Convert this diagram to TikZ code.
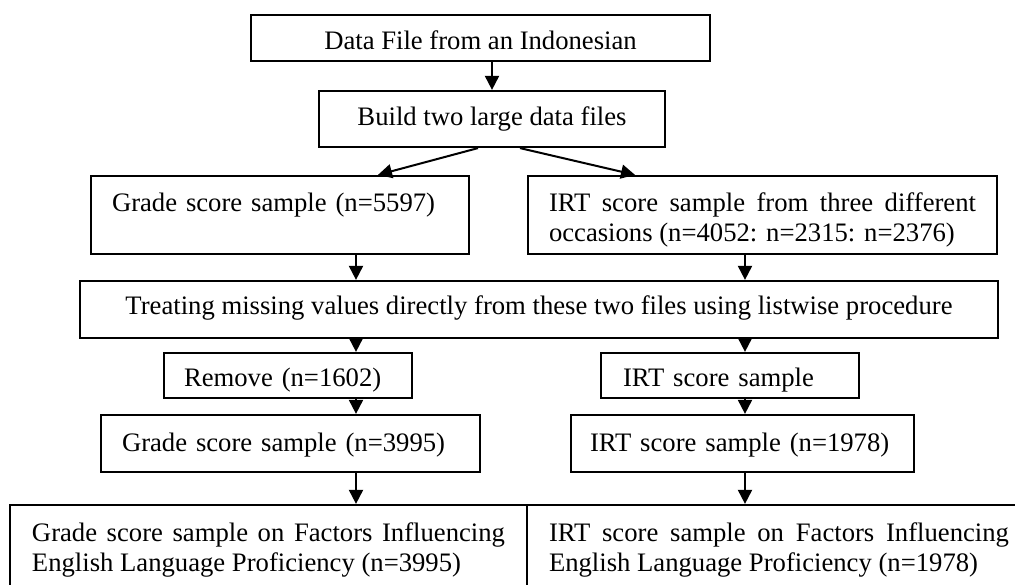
\documentclass[tikz,border=0pt]{standalone}
\usepackage{fontspec}
\setmainfont{Liberation Serif}
\usetikzlibrary{arrows.meta}
\newlength{\px}
\setlength{\px}{0.45pt}

\begin{document}
\begin{tikzpicture}[x=0.45pt, y=-0.45pt,
    box/.style={draw, black, line width=1pt, inner ysep=0pt, font=\fontsize{12}{13.5}\selectfont},
    arr/.style={black, line width=0.9pt, -{Triangle[length=6.3pt, width=6.3pt]}}]
    \useasboundingbox (0,0) rectangle (1015,585);
    \clip (0,0) rectangle (1015,585);
    \coordinate (lx) at (356,0);
    \coordinate (rx) at (745,0);
    \node[box, minimum width=459\px, text height=35\px, text depth=11\px] (data) at (480.5,38) {Data File from an Indonesian};
    \node[box, minimum width=346\px, text height=35\px, text depth=21\px] (build) at (492,119) {Build two large data files};
    \node[box, inner xsep=21\px, text width=336\px, align=left, text height=36\px, text depth=42\px] (grade) at (280,215) {Grade score sample (n=5597)};
    \node[box, inner xsep=21\px, text width=427\px, align=justify, text height=36\px, text depth=42\px] (irt) at (762.5,215) {IRT score sample from three different occasions (n=4052: n=2315: n=2376)};
    \node[box, minimum width=918\px, text height=34\px, text depth=23\px] (treat) at (539,309.5) {Treating missing values directly from these two files using listwise procedure};
    \node[box, inner xsep=20\px, text width=208\px, align=left, text height=34\px, text depth=11\px] (remove) at (288,375.5) {Remove (n=1602)};
    \node[box, inner xsep=22\px, text width=214\px, align=left, text height=34\px, text depth=11\px] (irtkept) at (730,375.5) {IRT score sample};
    \node[box, inner xsep=21\px, text width=337\px, align=left, text height=37\px, text depth=20\px] (gradeclean) at (290.5,443.5) {Grade score sample (n=3995)};
    \node[box, inner xsep=19\px, text width=305\px, align=left, text height=37\px, text depth=20\px] (irtclean) at (742.5,443.5) {IRT score sample (n=1978)};
    \node[box, inner xsep=22\px, text width=473\px, align=justify, text height=37\px, text depth=58\px] (gradefinal) at (268.5,552.5) {Grade score sample on Factors Influencing English Language Proficiency (n=3995)};
    \node[box, inner xsep=22\px, text width=460\px, align=justify, text height=37\px, text depth=58\px] (irtfinal) at (779,552.5) {IRT score sample on Factors Influencing English Language Proficiency (n=1978)};
    \draw[arr] (build.north |- data.south) -- (build.north);
    \draw[arr] ([xshift=-14\px]build.south) -- ([xshift=98\px]grade.north);
    \draw[arr] ([xshift=28\px]build.south) -- ([xshift=-127.5\px]irt.north);
    \draw[arr] (grade.south -| lx) -- (treat.north -| lx);
    \draw[arr] (irt.south -| rx) -- (treat.north -| rx);
    \draw[arr] (treat.south -| lx) -- (remove.north -| lx);
    \draw[arr] (treat.south -| rx) -- (irtkept.north -| rx);
    \draw[arr] (remove.south -| lx) -- (gradeclean.north -| lx);
    \draw[arr] (irtkept.south -| rx) -- (irtclean.north -| rx);
    \draw[arr] (gradeclean.south -| lx) -- (gradefinal.north -| lx);
    \draw[arr] (irtclean.south -| rx) -- (irtfinal.north -| rx);
\end{tikzpicture}
\end{document}
